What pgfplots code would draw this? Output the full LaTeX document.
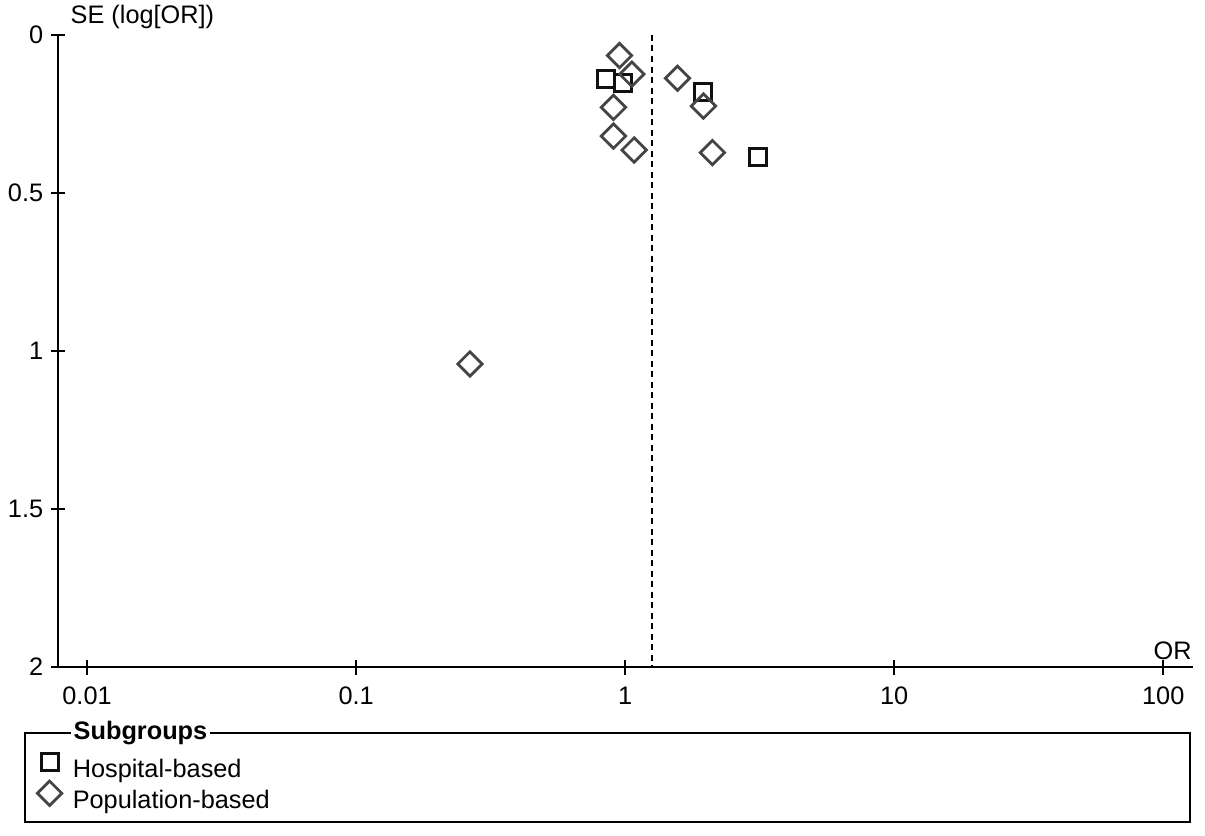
\documentclass[border=0pt]{standalone}
\usepackage{fontspec}
\setmainfont{Liberation Sans}
\usepackage{pgfplots}
\pgfplotsset{compat=1.18}
\definecolor{diag}{HTML}{444444}
\definecolor{sq}{HTML}{111111}

\begin{document}
\begin{tikzpicture}
\begin{axis}[
  scale only axis,
  width=113.5mm, height=63.2mm,
  xmode=log, log basis x=10,
  xmin=0.0078, xmax=129,
  ymin=0, ymax=2, y dir=reverse,
  axis x line*=bottom, axis y line*=left,
  axis line style={-, line width=0.25mm, black},
  xtick={0.01,0.1,1,10,100},
  xticklabels={0.01,0.1,1,10,100},
  ytick={0,0.5,1,1.5,2},
  yticklabels={0,0.5,1,1.5,2},
  minor tick num=0,
  tick align=center,
  major tick length=1.5mm,
  tick style={line width=0.2mm, black},
  tick label style={font=\fontsize{7.2}{8}\selectfont},
  /pgf/number format/assume math mode=true,
  xticklabel style={yshift=0mm},
  yticklabel style={xshift=0.5mm},
  clip=false,
  legend style={at={(axis description cs:-0.028,-0.124)}, anchor=north west,
    draw=none, fill=none, font=\fontsize{7.2}{8}\selectfont,
    row sep=-0.3mm, column sep=0.9mm,
    nodes={text height=1.8mm, text depth=0.5mm, inner sep=0.2mm}},
  legend cell align=left,
  legend image code/.code={\draw[#1] plot coordinates {(1.2mm,0.9mm)};},
]
\addplot[black, dashed, dash pattern=on 0.6mm off 0.45mm, line width=0.2mm, forget plot]
  coordinates {(1.26,0) (1.26,2)};
\addplot[only marks, mark=square, mark size=0.85mm,
  mark options={draw=sq, line width=0.3mm, fill=none}]
  coordinates {(0.848,0.140) (0.98,0.153) (1.945,0.179) (3.11,0.387)};
\addlegendentry{Hospital-based}
\addplot[only marks, mark=square, mark size=0.86mm,
  mark options={draw=diag, line width=0.28mm, fill=none, rotate=45}]
  coordinates {(0.953,0.065) (1.059,0.124) (1.565,0.137) (0.905,0.229)
    (1.955,0.225) (0.905,0.320) (1.08,0.364) (2.11,0.372) (0.265,1.041)};
\addlegendentry{Population-based}
\node[anchor=west, font=\fontsize{7.2}{8}\selectfont, inner sep=0pt]
  at (rel axis cs:0,0) [xshift=1.2mm, yshift=65mm] {SE (log[OR])};
\node[font=\fontsize{7.2}{8}\selectfont, inner sep=0pt]
  at (rel axis cs:0.982,0) [yshift=1.6mm] {OR};
\end{axis}
% legend frame with its title
\draw[line width=0.2mm] (-3.3mm,-6.6mm) rectangle (113.2mm,-15.5mm);
\node[anchor=west, fill=white, inner xsep=0.3mm, inner ysep=0.2mm,
  font=\fontsize{7.2}{8}\selectfont\bfseries] at (1.2mm,-6.6mm) {Subgroups};
% frame of the whole picture (1 px = 0.1 mm)
\pgfresetboundingbox
\path[use as bounding box] (-5.8mm,66.7mm) rectangle (114.7mm,-16.8mm);
\end{tikzpicture}
\end{document}
